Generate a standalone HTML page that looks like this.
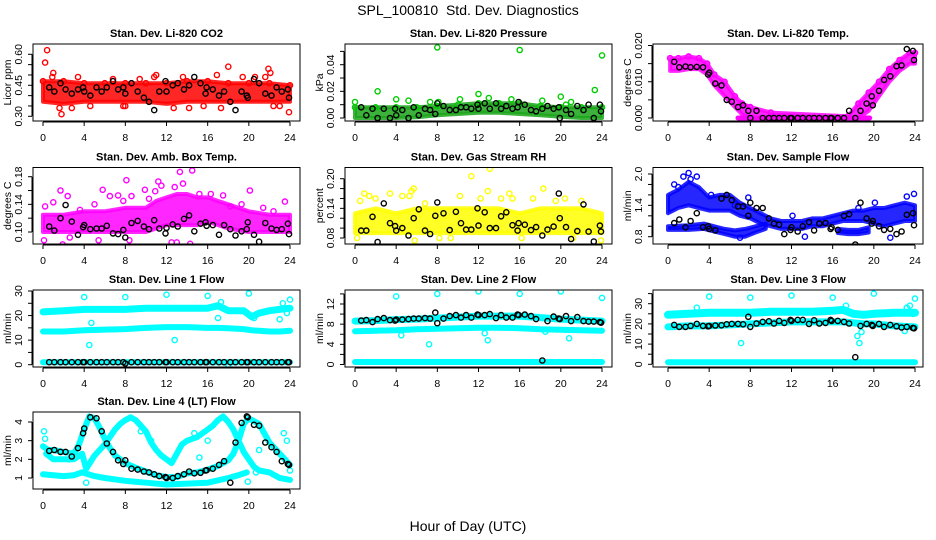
<!DOCTYPE html>
<html><head><meta charset="utf-8"><style>
html,body{margin:0;padding:0;background:#fff;}
svg{display:block;font-family:"Liberation Sans",sans-serif;}
</style></head><body>
<svg id="chart" width="936" height="540" viewBox="0 0 936 540" xmlns="http://www.w3.org/2000/svg">
<rect width="936" height="540" fill="#fff"/>
<text x="468" y="15" font-size="14" text-anchor="middle">SPL_100810&#160; Std. Dev. Diagnostics</text>
<text x="468" y="531" font-size="14" text-anchor="middle">Hour of Day (UTC)</text>
</svg>
<script>
// shared black-series sample times (hours)
const blackT=[0.6,1.1,1.7,2.2,2.8,3.4,3.9,4.0,4.6,5.2,5.7,6.2,6.8,7.3,7.8,8.0,8.6,9.2,9.8,10.3,10.8,11.3,11.9,12.0,12.6,13.1,13.7,14.2,14.7,15.3,15.8,15.9,16.5,17.1,17.6,18.2,18.7,19.3,19.8,19.9,20.5,21.0,21.6,22.2,22.7,23.2,23.8,23.9];
const xTicks=[0,4,8,12,16,20,24];

// CO2
const co2BandX=[0,2,4,6,8,10,12,14,16,18,20,22,24];
const co2Lo=[0.37,0.36,0.37,0.37,0.37,0.37,0.36,0.37,0.37,0.37,0.37,0.37,0.37];
const co2Hi=[0.47,0.47,0.46,0.46,0.46,0.46,0.46,0.47,0.47,0.46,0.46,0.46,0.45];
const co2OutX=[0.2,0.4,1.0,1.6,1.8,18.0,21.9,22.1,23.9,17.3,21.6,2.8,4.6,7.8,8.0,10.8,11.0,12.7,14.2,15.6,22.4,23.0,0.9,3.4,6.8,9.4,13.6,16.9,19.4,20.6];
const co2OutY=[0.56,0.62,0.51,0.34,0.31,0.54,0.53,0.51,0.32,0.34,0.49,0.34,0.35,0.35,0.35,0.49,0.50,0.34,0.34,0.35,0.35,0.35,0.49,0.49,0.48,0.48,0.49,0.50,0.49,0.49];
const co2Blk=[0.44,0.42,0.46,0.43,0.41,0.43,0.44,0.42,0.40,0.44,0.42,0.44,0.47,0.43,0.44,0.41,0.46,0.42,0.39,0.37,0.33,0.42,0.47,0.42,0.45,0.46,0.43,0.45,0.49,0.46,0.41,0.44,0.43,0.40,0.42,0.37,0.33,0.42,0.40,0.39,0.48,0.46,0.41,0.40,0.44,0.42,0.43,0.39];

// Pressure
const presBandX=[0,2,4,6,8,10,12,14,16,18,20,22,24];
const presLo=[0,0,0,0.0005,0.002,0.003,0.004,0.004,0.003,0.002,0.001,0,0];
const presHi=[0.008,0.008,0.008,0.008,0.009,0.010,0.011,0.011,0.011,0.009,0.008,0.008,0.008];
const presOutX=[0,2.2,4,5.2,7.3,8,8.1,10.2,12,13,15.2,16,18.2,20,20.5,21,23.3,24];
const presOutY=[0.012,0.020,0.014,0.013,0.012,0.053,0.012,0.014,0.018,0.015,0.014,0.051,0.013,0.016,0.010,0.012,0.021,0.047];
const presBlk=[0.008,0.002,0.007,0,0.007,0,0.007,0.002,0.006,0,0.008,0.002,0.007,0.006,0.003,0.011,0.009,0.006,0.006,0.008,0.008,0.007,0.010,0.007,0.011,0.007,0.011,0.007,0.009,0.007,0.008,0.012,0.010,0.006,0.005,0.007,0.009,0.007,0.008,0,0.006,0.003,0.009,0.006,0.010,0,0.010,0.005];

// Li-820 Temp
const tempBandX=[0.2,1,2,3,3.8,4.5,5.5,6.5,7.2,8,10,17.5,18.5,19.5,20.5,21.5,22.5,23.5,24];
const tempLo=[0.013,0.013,0.0135,0.0135,0.012,0.009,0.006,0.003,0.001,0,0,0,0,0.002,0.006,0.010,0.013,0.015,0.015];
const tempHi=[0.0165,0.0165,0.017,0.0165,0.015,0.012,0.010,0.006,0.004,0.003,0.0015,0.0005,0.004,0.007,0.010,0.0135,0.016,0.018,0.018];
const tempZeroX=[6.8,19.6];
const tempZeroY=[0,0];
const tempBlk=[0.0155,0.014,0.0142,0.014,0.0141,0.014,0.012,0.0125,0.0095,0.009,0.005,0.0045,0.003,0.0035,0.002,0,0.002,0,0,0,0,0,0,0,0,0,0,0,0,0,0,0,0,0,0.002,0,0.002,0.004,0.006,0.0035,0.0075,0.0105,0.0115,0.0143,0.0145,0.019,0.0185,0.016];

// Amb box temp
const ambBandX=[0,2,4,6,8,10,11,12,13,14,15,16,17,18,20,22,24];
const ambLo=[0.10,0.10,0.10,0.10,0.10,0.10,0.105,0.11,0.11,0.11,0.11,0.115,0.11,0.105,0.10,0.10,0.10];
const ambHi=[0.125,0.125,0.13,0.13,0.135,0.135,0.145,0.15,0.155,0.155,0.15,0.15,0.145,0.14,0.13,0.125,0.125];
const ambOutX=[0.1,0.2,1.0,1.7,1.9,2.4,2.6,3.6,5.0,5.8,6.5,7.3,7.8,8.1,8.6,9.9,10.3,10.9,11.2,11.5,12.8,13.3,13.6,14.5,15.2,16.3,17.5,18.2,19.3,20.1,21.4,22.4,23.5,12.5,13.0,14.3,5.4,8.4];
const ambOutY=[0.088,0.137,0.143,0.160,0.082,0.152,0.092,0.132,0.14,0.161,0.152,0.153,0.145,0.175,0.152,0.161,0.148,0.159,0.173,0.167,0.165,0.187,0.170,0.189,0.155,0.155,0.153,0.137,0.14,0.16,0.135,0.13,0.144,0.085,0.085,0.083,0.088,0.088];
const ambBlk=[0.108,0.102,0.12,0.139,0.115,0.096,0.107,0.11,0.104,0.105,0.105,0.109,0.098,0.097,0.103,0.092,0.113,0.116,0.108,0.104,0.117,0.105,0.098,0.106,0.111,0.108,0.119,0.124,0.101,0.112,0.114,0.109,0.11,0.096,0.11,0.104,0.095,0.101,0.104,0.114,0.096,0.086,0.113,0.105,0.103,0.104,0.112,0.097];

// Gas stream RH
const rhBandX=[0,2,4,6,8,10,12,14,16,18,20,22,24];
const rhLo=[0.09,0.09,0.09,0.09,0.09,0.09,0.09,0.09,0.09,0.09,0.09,0.09,0.09];
const rhHi=[0.13,0.14,0.13,0.14,0.14,0.14,0.14,0.14,0.13,0.14,0.14,0.14,0.13];
const rhOutX=[0.5,0.9,1.4,2.0,3.4,4.6,5.3,5.5,5.7,6.8,10.2,11.3,12.2,12.9,13.1,14.2,15.0,15.3,17.3,18.3,19.5,20.4,22.0,5.8,8.2,0.2,9.3,23.9,16.2,21.2];
const rhOutY=[0.155,0.17,0.165,0.16,0.17,0.165,0.165,0.175,0.18,0.15,0.165,0.205,0.16,0.175,0.22,0.16,0.17,0.16,0.16,0.18,0.155,0.16,0.155,0.075,0.08,0.08,0.08,0.075,0.08,0.08];
const rhBlk=[0.095,0.095,0.123,0.072,0.15,0.11,0.104,0.095,0.1,0.085,0.12,0.138,0.095,0.088,0.125,0.152,0.13,0.096,0.133,0.11,0.097,0.097,0.14,0.105,0.132,0.1,0.1,0.124,0.132,0.106,0.095,0.11,0.107,0.096,0.102,0.085,0.097,0.103,0.17,0.12,0.102,0.078,0.094,0.148,0.093,0.073,0.105,0.093];

// Sample flow
const sfAX=[0,1,2,3,4,5,6,7,8,9,10,11,12,13,14,15,16,17,18,19,20,21,22,23,24];
const sfALo=[1.25,1.35,1.4,1.35,1.3,1.3,1.3,1.2,1.15,1.05,1.0,0.95,0.95,0.95,1.0,1.0,1.05,1.1,1.1,1.1,1.05,1.0,1.05,1.1,1.1];
const sfAHi=[1.6,1.7,1.85,1.75,1.55,1.6,1.6,1.45,1.35,1.25,1.15,1.1,1.1,1.1,1.15,1.15,1.2,1.25,1.3,1.3,1.35,1.35,1.4,1.45,1.4];
const sfBX=[0,2,3.5,4.5,5.5,6.5,7.5,8.5,9.5];
const sfBLo=[0.93,0.93,0.95,0.9,0.85,0.8,0.8,0.88,0.95];
const sfBHi=[1.0,1.02,1.05,1.0,0.95,0.92,0.95,1.0,1.05];
const sfCX=[16.5,17.5,18.5,19.5];
const sfCLo=[0.87,0.85,0.85,0.88];
const sfCHi=[0.95,0.93,0.93,0.98];
const sfOutX=[2.0,1.5,2.8,2.2,4.2,7.8,20.1,23.2,23.9,18.5,12.1,6.5,21.6,13.3,7.0,0.6,1.0];
const sfOutY=[2.02,1.95,1.95,1.9,1.6,1.55,1.45,1.57,1.62,1.35,1.2,1.4,0.78,0.8,0.78,1.8,1.75];
const sfBlk=[1.06,1.13,0.98,1.1,1.25,0.98,1.0,0.95,0.92,1.53,1.6,1.5,1.38,1.38,1.2,1.45,1.35,1.35,1.15,1.05,1.03,0.85,0.93,0.98,0.9,1.0,1.08,0.92,1.05,1.06,0.95,0.98,0.93,1.2,1.23,0.65,1.45,1.15,1.05,1.1,1.0,0.93,0.95,0.85,0.9,1.22,1.25,1.02];

// Line 1
const l1X=[0,2,4,6,8,10,12,14,16,17,18,19.5,20.3,21,22,23,24];
const l1A=[21.5,22,22.5,22.5,22.5,23,23,23,23,24,22,22,19.5,21,22,22.5,23];
const l1B=[13.5,13.5,14,14.3,14.5,15,15.3,15.3,15,15,14.8,14.5,14,13.8,13.5,13.5,13.8];
const l1C=[1,1,1,1,1,1,1,1,1,1,1,1,1,1,1,1,1];
const l1OutX=[4,8,12,16,17.3,20,24,4.5,4.7,12.8,17,20.5,23,23.3,23.7,18];
const l1OutY=[27.5,27.5,28.5,28,25.5,29,26.5,8,17,10,19,19,18.5,25,21,0];
const l1Blk=[1,1,1,1,1,1,1,1,1,1,1,1,1,1,1,0.5,1,1,1,1,1,1,1,1,1,1,1,1,1,1,1,1,1,1,1,1,1,1,1,1,1,1,1,1,1,1,1,1];

// Line 2
const l2X=[0,2,4,6,8,10,12,14,16,18,20,22,24];
const l2A=[8.6,8.7,8.9,9.0,9.2,9.4,9.6,9.6,9.6,9.3,9.0,8.8,8.6];
const l2B=[6.6,6.7,6.8,7.0,7.1,7.2,7.3,7.3,7.2,7.0,6.9,6.8,6.7];
const l2C=[0.5,0.5,0.5,0.5,0.5,0.5,0.5,0.5,0.5,0.5,0.5,0.5,0.5];
const l2OutX=[4,8,12,16,20,24,7.2,12.9,4.5,12.6,20.8,18.5];
const l2OutY=[13.5,14,14.5,14,14.5,13.2,4,4.8,5.8,6.2,5.2,6.5];
const l2Blk=[8.7,8.8,8.4,9.0,9.2,8.8,8.7,8.9,8.9,9.0,9.1,9.1,9.2,9.1,10.3,8.2,9.1,9.6,9.8,9.3,9.8,9.3,9.9,9.8,9.8,10.0,9.2,9.8,9.3,9.3,9.9,9.8,9.9,9.6,9.0,0.8,8.6,9.5,9.1,9.0,9.6,8.6,9.4,8.6,8.5,8.5,8.4,8.3];

// Line 3
const l3X=[0,2,4,6,8,10,12,14,16,17,18,19,20,22,24];
const l3A=[24.5,25,25.5,25.5,25.5,26,26,26,26.5,27,25,24.5,25,25.5,25.5];
const l3B=[18.5,19,19,19.5,20,20.5,21,21,21,21,20.5,20,20,19,18.5];
const l3C=[1,1,1,1,1,1,1,1,1,1,1,1,1,1,1];
const l3OutX=[4,8,12,16,20,24,7.1,18.6,18.4,18.8,23.2,23.5,23.8,23,17.3,2.8];
const l3OutY=[33.5,33,34,33,35,32.5,10.5,10.5,14,16,28,29,25,16.5,29,28];
const l3Blk=[19.5,18.5,18.5,19,20,19,18.8,19,19.2,19.3,19.8,20,20,19.8,23.5,18.5,20.2,21,21.3,20.2,21.5,20.5,22,21.5,22,22,20,21.8,20.2,20.5,22,21.5,21.5,21,20.2,3.5,19,20,19.5,19,20,18.5,19.5,18.8,18.2,18.5,18,17.8];

// Line 4
const l4AX=[0,0.5,1,2,3,3.5,4,4.5,5,5.5,6,6.5,7,7.5,8,9,10,11,12,13,14,15,16,17,18,18.5,19,19.5,20,21,22,23,24];
const l4AY=[2.7,2.5,2.5,2.4,2.3,2.8,3.6,4.3,4.2,3.7,3.1,2.6,2.2,2.0,1.8,1.55,1.35,1.15,1.05,1.05,1.25,1.3,1.45,1.65,1.95,2.3,3.0,3.9,4.2,3.9,2.9,2.3,1.7];
const l4BX=[0.3,1,2,3,3.8,4.2,5,6,6.5,7,7.5,8,8.5,9,9.5,10,10.5,11,11.5,12,12.5,13,13.5,14,15,16,16.5,17,17.5,18,18.5,19,19.5,20,20.5,21,22,23,24];
const l4BY=[2.3,2.0,2.0,2.0,2.3,1.5,2.2,2.8,3.2,3.6,3.9,4.1,4.25,4.1,3.8,3.5,2.9,2.5,2.2,2.0,1.8,2.3,2.8,3.0,3.2,3.6,3.8,4.1,4.3,4.0,3.6,3.0,2.4,2.0,1.6,1.4,1.3,1.0,0.9];
const l4CX=[0,1,2,3,3.8,5,6,8,10,12,14,16,18,19,19.8];
const l4CY=[1.2,1.15,1.1,1.15,1.3,1.1,1.0,0.85,0.75,0.65,0.7,0.75,1.0,1.15,1.3];
const l4OutX=[0.1,0.2,4.2,14.7,15.2,19.9,20.7,21,23.4,23.7,24,2.5,9.5,10.5,16];
const l4OutY=[3.5,3.1,0.75,3.4,2.1,0.8,1.3,2.5,3.4,3.0,1.4,2.0,3.5,3.0,3.0];
const l4Blk=[2.45,2.5,2.4,2.4,2.15,2.6,3.4,3.65,4.25,4.2,3.5,2.85,2.4,1.95,1.75,1.95,1.5,1.45,1.35,1.3,1.2,1.1,1.05,1.0,1.0,1.1,1.2,1.35,1.25,1.28,1.4,1.42,1.5,1.7,1.9,0.75,2.9,3.95,4.3,4.25,3.85,3.8,2.9,2.65,2.4,1.9,1.75,1.7];

// layout (pixels)
const colBox=[[33,300],[345,612],[653,923]];
const colX=[[43,290],[355,602],[668,915]];
const rowBox=[[44,121],[167.5,244],[290,367],[412,489]];

const NS="http://www.w3.org/2000/svg";
const svg=document.getElementById('chart');
function mk(tag,attrs,parent){const e=document.createElementNS(NS,tag);for(const k in attrs)e.setAttribute(k,attrs[k]);(parent||svg).appendChild(e);return e;}

function panel(o){
  const g=mk('g',{});
  
  
  const [bl,br]=colBox[o.col],[bt,bb]=rowBox[o.row],[x0,x24]=colX[o.col];
  const sx=h=>x0+(h/24)*(x24-x0);
  const sy=v=>o.pa+(v-o.va)/(o.vb-o.va)*(o.pb-o.pa);
  const cg=mk('g',{},g);
  const clipId='c'+o.name;
  const cp=mk('clipPath',{id:clipId},g);mk('rect',{x:bl,y:bt,width:br-bl,height:bb-bt},cp);
  cg.setAttribute('clip-path','url(#'+clipId+')');
  (o.bands||[]).forEach(b=>{
    let d='';
    b.x.forEach((h,i)=>{d+=(i?'L':'M')+sx(h).toFixed(1)+','+sy(b.hi[i]).toFixed(1);});
    for(let i=b.x.length-1;i>=0;i--)d+='L'+sx(b.x[i]).toFixed(1)+','+sy(b.lo[i]).toFixed(1);
    const p=mk('path',{d:d+'Z',fill:b.color,'fill-opacity':0.85,stroke:b.color,'stroke-opacity':0.85,'stroke-width':4,'stroke-linejoin':'round'},cg);
    
    
  });
  (o.curves||[]).forEach(c=>{
    const pts=c.x.map((h,i)=>sx(h).toFixed(1)+','+sy(c.y[i]).toFixed(1)).join(' ');
    const p=mk('polyline',{points:pts,fill:'none',stroke:c.color,'stroke-width':c.w||6,'stroke-linejoin':'round','stroke-linecap':'round'},cg);
    
    
  });
  (o.pts||[]).forEach(s=>{
    const n=Math.min(s.x.length,s.y.length);
    for(let i=0;i<n;i++){
      const c=mk('circle',{cx:sx(s.x[i]).toFixed(1),cy:sy(s.y[i]).toFixed(1),r:2.6,fill:'none',stroke:s.color,'stroke-width':1.4},cg);
      
      
    }
  });
  const bx=mk('rect',{x:bl,y:bt,width:br-bl,height:bb-bt,fill:'none',stroke:'#000','stroke-width':1},g);
  
  
  mk('line',{x1:sx(0),x2:sx(24),y1:bb+1,y2:bb+1,stroke:'#000'},g);
  xTicks.forEach(t=>{
    mk('line',{x1:sx(t),x2:sx(t),y1:bb+1,y2:bb+5,stroke:'#000'},g);
    const tx=mk('text',{x:sx(t),y:bb+20,'font-size':10.5,'text-anchor':'middle'},g);tx.textContent=t;
    
    
  });
  const ax=bl-1;
  mk('line',{x1:ax,x2:ax,y1:sy(o.ticks[0]),y2:sy(o.ticks[o.ticks.length-1]),stroke:'#000'},g);
  o.ticks.forEach(t=>{mk('line',{x1:ax,x2:ax-4,y1:sy(t),y2:sy(t),stroke:'#000'},g);});
  o.labels.forEach(t=>{
    const y=sy(parseFloat(t)),x=bl-11;
    const tx=mk('text',{x:x,y:y,'font-size':10.5,'text-anchor':'middle',transform:'rotate(-90 '+x+' '+y+')'},g);tx.textContent=t;
    
    
  });
  const yl=bl-22,ym=(bt+bb)/2;
  const yt=mk('text',{x:yl,y:ym,'font-size':10.5,'text-anchor':'middle',transform:'rotate(-90 '+yl+' '+ym+')'},g);yt.textContent=o.ylab;
  
  
  const tt=mk('text',{x:(bl+br)/2,y:bt-7,'font-size':11,'font-weight':'bold','text-anchor':'middle'},g);tt.textContent=o.title;
  
  
}
const BK='#000',RED='#ff0000',GRN='#00cd00',GRD='#1aa51a',MAG='#ff00ff',YEL='#ffff00',BLU='#0000ff',CYA='#00ffff';

panel({name:'co2-panel',col:0,row:0,title:'Stan. Dev. Li-820 CO2',ylab:'Licor ppm',va:0.30,pa:116.3,vb:0.60,pb:54.3,
  ticks:[0.30,0.35,0.40,0.45,0.50,0.55,0.60],labels:['0.30','0.45','0.60'],
  bands:[{x:co2BandX,lo:co2Lo,hi:co2Hi,color:RED}],
  pts:[{x:co2OutX,y:co2OutY,color:RED},{x:co2BandX,y:co2Hi,color:RED},{x:blackT,y:co2Blk,color:BK}]});
panel({name:'pressure-panel',col:1,row:0,title:'Stan. Dev. Li-820 Pressure',ylab:'kPa',va:0,pa:118,vb:0.04,pb:64.7,
  ticks:[0,0.01,0.02,0.03,0.04,0.05],labels:['0.00','0.02','0.04'],
  bands:[{x:presBandX,lo:presLo,hi:presHi,color:GRD}],
  pts:[{x:presOutX,y:presOutY,color:GRN},{x:presBandX,y:presHi,color:GRN},{x:blackT,y:presBlk,color:BK}]});
panel({name:'li820-temp-panel',col:2,row:0,title:'Stan. Dev. Li-820 Temp.',ylab:'degrees C',va:0,pa:118,vb:0.02,pb:45.5,
  ticks:[0,0.005,0.010,0.015,0.020],labels:['0.000','0.010','0.020'],
  bands:[{x:tempBandX,lo:tempLo,hi:tempHi,color:MAG}],
  curves:[{x:tempZeroX,y:tempZeroY,color:MAG,w:5}],
  pts:[{x:tempBandX,y:tempHi,color:MAG},{x:blackT,y:tempBlk,color:BK}]});
panel({name:'amb-box-temp-panel',col:0,row:1,title:'Stan. Dev. Amb. Box Temp.',ylab:'degrees C',va:0.10,pa:232,vb:0.18,pb:176.7,
  ticks:[0.10,0.12,0.14,0.16,0.18],labels:['0.10','0.14','0.18'],
  bands:[{x:ambBandX,lo:ambLo,hi:ambHi,color:MAG}],
  pts:[{x:ambOutX,y:ambOutY,color:MAG},{x:blackT,y:ambBlk,color:BK}]});
panel({name:'gas-rh-panel',col:1,row:1,title:'Stan. Dev. Gas Stream RH',ylab:'percent',va:0.08,pa:238,vb:0.20,pb:178.7,
  ticks:[0.08,0.10,0.12,0.14,0.16,0.18,0.20],labels:['0.08','0.14','0.20'],
  bands:[{x:rhBandX,lo:rhLo,hi:rhHi,color:YEL}],
  pts:[{x:rhOutX,y:rhOutY,color:YEL},{x:blackT,y:rhBlk,color:BK}]});
panel({name:'sample-flow-panel',col:2,row:1,title:'Stan. Dev. Sample Flow',ylab:'ml/min',va:0.8,pa:236.7,vb:2.0,pb:174,
  ticks:[0.8,1.0,1.2,1.4,1.6,1.8,2.0],labels:['0.8','1.4','2.0'],
  bands:[{x:sfAX,lo:sfALo,hi:sfAHi,color:BLU},{x:sfBX,lo:sfBLo,hi:sfBHi,color:BLU},{x:sfCX,lo:sfCLo,hi:sfCHi,color:BLU}],
  pts:[{x:sfOutX,y:sfOutY,color:BLU},{x:blackT,y:sfBlk,color:BK}]});
panel({name:'line1-flow-panel',col:0,row:2,title:'Stan. Dev. Line 1 Flow',ylab:'ml/min',va:0,pa:364.7,vb:30,pb:291,
  ticks:[0,5,10,15,20,25,30],labels:['0','10','20','30'],
  curves:[{x:l1X,y:l1A,color:CYA,w:7},{x:l1X,y:l1B,color:CYA,w:6},{x:l1X,y:l1C,color:CYA,w:6}],
  pts:[{x:l1OutX,y:l1OutY,color:CYA},{x:blackT,y:l1Blk,color:BK}]});
panel({name:'line2-flow-panel',col:1,row:2,title:'Stan. Dev. Line 2 Flow',ylab:'ml/min',va:0,pa:364.5,vb:12,pb:304,
  ticks:[0,2,4,6,8,10,12,14],labels:['0','4','8','12'],
  curves:[{x:l2X,y:l2A,color:CYA,w:7},{x:l2X,y:l2B,color:CYA,w:6},{x:l2X,y:l2C,color:CYA,w:6}],
  pts:[{x:l2OutX,y:l2OutY,color:CYA},{x:blackT,y:l2Blk,color:BK}]});
panel({name:'line3-flow-panel',col:2,row:2,title:'Stan. Dev. Line 3 Flow',ylab:'ml/min',va:0,pa:364.3,vb:30,pb:303.7,
  ticks:[0,5,10,15,20,25,30,35],labels:['0','10','20','30'],
  curves:[{x:l3X,y:l3A,color:CYA,w:8},{x:l3X,y:l3B,color:CYA,w:7},{x:l3X,y:l3C,color:CYA,w:6}],
  pts:[{x:l3OutX,y:l3OutY,color:CYA},{x:blackT,y:l3Blk,color:BK}]});
panel({name:'line4-flow-panel',col:0,row:3,title:'Stan. Dev. Line 4 (LT) Flow',ylab:'ml/min',va:1,pa:478,vb:4,pb:422,
  ticks:[1,2,3,4],labels:['1','2','3','4'],
  curves:[{x:l4AX,y:l4AY,color:CYA,w:6},{x:l4BX,y:l4BY,color:CYA,w:6},{x:l4CX,y:l4CY,color:CYA,w:6}],
  pts:[{x:l4OutX,y:l4OutY,color:CYA},{x:blackT,y:l4Blk,color:BK}]});
</script>
</body></html>
